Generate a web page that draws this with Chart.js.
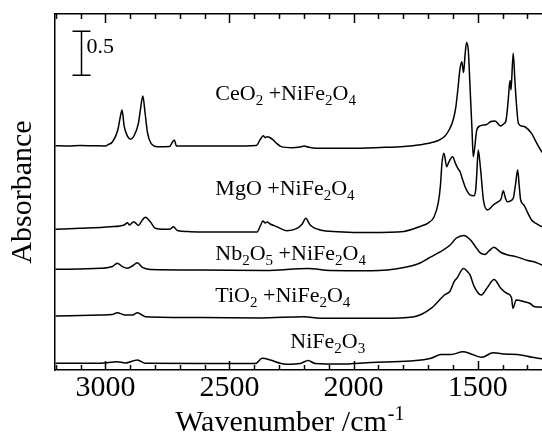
<!DOCTYPE html>
<html>
<head>
<meta charset="utf-8">
<script src="https://cdn.jsdelivr.net/npm/chart.js@4/dist/chart.umd.min.js"></script>
<style>
html,body{margin:0;padding:0;background:#fff}
canvas{display:block}
</style>
</head>
<body>
<canvas id="ir" width="542" height="435"></canvas>
<script>
// IR spectra, stacked. wavenumber in cm-1, absorbance (offsets included)

const ceWn=[3201,3150,3101,3050,3000,2991,2971,2950,2941,2933,2924,2910,2899,2883,2867,2859,2849,2840,2830,2816,2790,2742,2729,2722,2714,2618,2497,2392,2376,2364,2356,2348,2340,2324,2310,2292,2247,2215,2199,2180,2151,2014,1893,1797,1732,1676,1650,1630,1615,1599,1588,1579,1572,1564,1557,1551,1545,1538,1533,1528,1523,1518,1504,1491,1464,1447,1430,1408,1394,1386,1377,1370,1366,1357,1350,1346,1336,1320,1310,1283,1265,1241,1230]
const ceAbs=[2.549,2.545,2.551,2.548,2.545,2.557,2.594,2.727,2.860,2.955,2.765,2.651,2.622,2.670,2.803,2.955,3.114,2.917,2.690,2.576,2.538,2.540,2.594,2.614,2.545,2.545,2.545,2.551,2.620,2.663,2.640,2.650,2.645,2.614,2.575,2.538,2.526,2.535,2.545,2.530,2.519,2.519,2.528,2.540,2.560,2.590,2.620,2.665,2.730,2.841,2.990,3.216,3.410,3.503,3.380,3.580,3.722,3.636,3.350,3.034,2.730,2.424,2.722,2.773,2.790,2.824,2.830,2.773,2.800,2.835,3.068,3.290,3.182,3.599,3.280,3.102,2.801,2.770,2.764,2.688,2.591,2.477,2.450]

const mgWn=[3201,3101,2980,2924,2911,2903,2886,2867,2851,2839,2819,2799,2767,2738,2726,2710,2658,2497,2389,2376,2365,2356,2348,2336,2309,2269,2228,2207,2193,2175,2135,2064,1933,1797,1732,1700,1676,1659,1650,1644,1636,1625,1616,1601,1590,1580,1571,1563,1551,1540,1531,1515,1508,1504,1498,1492,1487,1477,1461,1437,1417,1406,1397,1389,1381,1357,1348,1339,1333,1327,1314,1299,1283,1265,1241,1230]
const mgAbs=[1.599,1.610,1.628,1.648,1.674,1.648,1.685,1.642,1.705,1.735,1.685,1.610,1.599,1.602,1.628,1.585,1.572,1.568,1.568,1.636,1.693,1.670,1.682,1.659,1.628,1.583,1.610,1.659,1.724,1.648,1.591,1.572,1.562,1.575,1.631,1.670,1.739,1.898,2.102,2.352,2.463,2.310,2.364,2.424,2.350,2.290,2.253,2.182,2.083,2.020,1.989,1.980,2.050,2.216,2.500,2.380,2.239,1.932,1.818,1.875,1.913,1.943,2.038,1.960,1.913,1.951,2.102,2.273,2.100,1.932,1.875,1.788,1.705,1.665,1.628,1.610]

const nbWn=[3201,3020,2972,2952,2932,2911,2891,2871,2851,2819,2618,2356,2183,2094,1929,1797,1732,1700,1652,1611,1587,1556,1527,1511,1487,1471,1455,1435,1406,1378,1346,1298,1265,1241,1230]
const nbAbs=[1.144,1.156,1.176,1.213,1.176,1.156,1.182,1.219,1.165,1.142,1.136,1.131,1.153,1.131,1.128,1.165,1.216,1.267,1.341,1.420,1.497,1.528,1.472,1.409,1.324,1.313,1.352,1.394,1.335,1.307,1.288,1.244,1.222,1.193,1.180]

const tiWn=[3201,3020,2972,2952,2920,2891,2871,2839,2618,2376,2199,2135,1893,1756,1688,1634,1611,1594,1584,1557,1540,1531,1514,1486,1459,1434,1408,1383,1364,1358,1345,1312,1289,1273,1241,1230]
const tiAbs=[0.614,0.625,0.631,0.651,0.625,0.625,0.651,0.606,0.597,0.591,0.606,0.588,0.588,0.606,0.701,0.852,0.898,1.011,1.042,1.153,1.114,1.080,0.947,0.852,0.947,1.028,0.932,0.872,0.824,0.701,0.795,0.776,0.756,0.722,0.714,0.710]

const nfWn=[3201,3020,2952,2920,2871,2839,2618,2396,2368,2336,2296,2268,2215,2183,2155,2054,1929,1772,1688,1648,1607,1559,1527,1483,1438,1390,1326,1281,1241,1230]
const nfAbs=[0.076,0.076,0.094,0.080,0.114,0.076,0.074,0.074,0.133,0.114,0.076,0.065,0.074,0.108,0.074,0.068,0.085,0.102,0.133,0.176,0.176,0.208,0.182,0.144,0.197,0.182,0.170,0.144,0.127,0.120]

const seriesNames=["CeO_2 +NiFe_2O_4","MgO +NiFe_2O_4","Nb_2O_5 +NiFe_2O_4","TiO_2 +NiFe_2O_4","NiFe_2O_3"]
const labelAt=[[2557,3.068],[2557,1.989],[2557,1.25],[2557,0.776],[2255,0.247]]

const xLabelTicks=[3000,2500,2000,1500]
const xMinorTicks=[3200,3100,3000,2900,2800,2700,2600,2500,2400,2300,2200,2100,2000,1900,1800,1700,1600,1500,1400,1300]

const serif="'Liberation Serif','Times New Roman',serif"

function pts(wn,ab){
return wn.map((w,i)=>({x:w,y:ab[i]}))
}

const allSeries=[[ceWn,ceAbs],[mgWn,mgAbs],[nbWn,nbAbs],[tiWn,tiAbs],[nfWn,nfAbs]]

// inward ticks, series names, scale bar, x title
const decor={
id:"decor",
afterDraw(chart){
const c=chart.ctx
const xs=chart.scales.x
const ys=chart.scales.y
const a=chart.chartArea

c.save()
c.strokeStyle="#000"
c.lineWidth=1.5
xMinorTicks.forEach(t=>{
let px=Math.round(xs.getPixelForValue(t))+0.5
let len=(t%500===0)?9:5
c.beginPath()
c.moveTo(px,a.bottom);c.lineTo(px,a.bottom-len)
c.moveTo(px,a.top);c.lineTo(px,a.top+len)
c.stroke()
})

// scale bar 0.5
let bx=Math.round(xs.getPixelForValue(3100))+0.5
let b1=ys.getPixelForValue(3.85)
let b0=ys.getPixelForValue(3.35)
c.beginPath()
c.moveTo(bx,b1);c.lineTo(bx,b0)
c.moveTo(bx-9,b1);c.lineTo(bx+9,b1)
c.moveTo(bx-9,b0);c.lineTo(bx+9,b0)
c.stroke()
c.fillStyle="#000"
c.textBaseline="alphabetic"
c.font="22px "+serif
c.fillText("0.5",bx+5,b1+22)

// series names with subscripts
seriesNames.forEach((name,i)=>{
let x=xs.getPixelForValue(labelAt[i][0])
let y=ys.getPixelForValue(labelAt[i][1])
name.split(/_(\d)/).forEach((part,k)=>{
if(!part)return
let sub=k%2===1
c.font=(sub?"15px ":"22px ")+serif
c.fillText(part,x,y+(sub?5:0))
x+=c.measureText(part).width
})
})

// x title with superscript
c.font="30px "+serif
let main="Wavenumber /cm"
let w=c.measureText(main).width
let tx=289-w/2-8
c.fillText(main,tx,431)
c.font="20px "+serif
c.fillText("-1",tx+w+1,420)
c.restore()
}
}

new Chart(document.getElementById("ir"),{
type:"line",
data:{
datasets:allSeries.map(s=>({
data:pts(s[0],s[1]),
borderColor:"#000",
borderWidth:1.5,
pointRadius:0,
cubicInterpolationMode:"monotone",
fill:false
}))
},
options:{
responsive:false,
animation:false,
devicePixelRatio:1,
layout:{padding:0},
plugins:{legend:{display:false},tooltip:{enabled:false}},
scales:{
x:{
type:"linear",
position:"bottom",
reverse:true,
min:1241,
max:3203,
afterBuildTicks:s=>{s.ticks=xLabelTicks.map(v=>({value:v}))},
ticks:{font:{family:serif,size:30},color:"#000",padding:0,maxRotation:0,autoSkip:false,callback:v=>String(v)},
grid:{display:false,drawTicks:false},
border:{display:true,color:"#000",width:1.5},
afterFit:s=>{s.height=65}
},
xTop:{
type:"linear",
position:"top",
reverse:true,
min:1241,
max:3203,
ticks:{display:false},
grid:{display:false,drawTicks:false},
border:{display:true,color:"#000",width:1.5},
afterFit:s=>{s.height=14}
},
y:{
min:0,
max:4.045,
ticks:{display:false},
grid:{display:false,drawTicks:false},
border:{display:true,color:"#000",width:1.5},
title:{display:true,text:"Absorbance",color:"#000",font:{family:serif,size:30},padding:{top:5,bottom:0}},
afterFit:s=>{s.width=55}
}
}
},
plugins:[decor]
})
</script>
</body>
</html>
